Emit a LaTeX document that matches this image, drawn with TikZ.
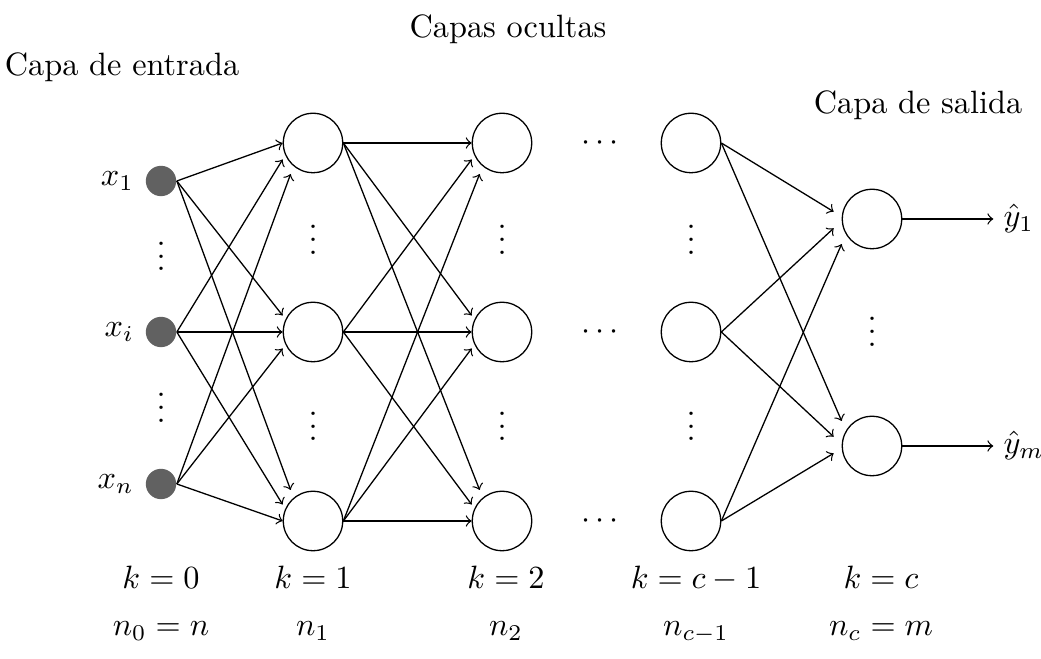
\documentclass[tikz,border=0pt]{standalone}
\usetikzlibrary{calc}
\begin{document}
\begin{tikzpicture}[x=0.3096pt,y=-0.3096pt,
  neuron/.style={circle,draw,line width=0.4pt,minimum size=18.4pt,inner sep=0pt},
  inneuron/.style={circle,fill=black!62,draw=none,minimum size=9.4pt,inner sep=0pt},
  conn/.style={->,line width=0.4pt},
  txt/.style={anchor=base,inner sep=0pt},
  outtxt/.style={anchor=base west,inner sep=0pt},
  vd/.style={anchor=base,inner sep=0pt}]
\useasboundingbox (0,0) rectangle (1041,659);

% titles
\node[txt] (tin)  at (122,76)  {Capa de entrada};
\node[txt] (thid) at (508,38)  {Capas ocultas};
\node[txt] (tout) at (918,114) {Capa de salida};

% input layer
\node[inneuron,label={left:$x_1$}] (i0) at (161,181) {};
\node[inneuron,label={left:$x_i$}] (i1) at (161,332) {};
\node[inneuron,label={left:$x_n$}] (i2) at (161,484) {};

% hidden layers
\foreach \j/\y in {0/143,1/332,2/521}{
  \node[neuron] (a\j) at (313,\y) {};
  \node[neuron] (b\j) at (502,\y) {};
  \node[neuron] (c\j) at (691,\y) {};
  \node[txt] (h\j) at (600,\y+8) {$\cdots$};
}

% output layer
\node[neuron] (o0) at (872,219) {};
\node[neuron] (o1) at (872,446) {};
\node[outtxt] (y0) at (1003,227) {$\hat{y}_1$};
\node[outtxt] (y1) at (1003,454) {$\hat{y}_m$};

% vertical dots
\node[vd] (v1) at (161,271) {$\vdots$};
\node[vd] (v2) at (161,422.5) {$\vdots$};
\foreach \x/\n in {313/a,502/b,691/c}{
  \node[vd] (\n u) at (\x,254.5) {$\vdots$};
  \node[vd] (\n d) at (\x,441) {$\vdots$};
}
\node[vd] (vo) at (872,346.5) {$\vdots$};

% connections input -> layer 1, layer 1 -> layer 2
\foreach \i in {0,1,2}{
  \foreach \j in {0,1,2}{
    \pgfmathsetmacro\d{\i-\j}
    \pgfmathsetmacro\dx{abs(\d)>1.5 ? 8 : 0}
    \pgfmathsetmacro\dy{abs(\d)>1.5 ? 15.5*\d : 16.5*\d}
    \draw[conn] (i\i.east) -- ([shift={(\dx,\dy)}]a\j.west);
    \draw[conn] (a\i.east) -- ([shift={(\dx,\dy)}]b\j.west);
  }
}

% layer c-1 -> output
\foreach \i/\dx/\dy in {0/-8/-7.3,1/-8/9.3,2/0/25}
  \draw[conn] (c\i.east) -- ([shift={(\dx,\dy)}]o0.west);
\foreach \i/\dx/\dy in {2/-8/7.3,1/-8/-9.3,0/0/-25}
  \draw[conn] (c\i.east) -- ([shift={(\dx,\dy)}]o1.west);

% outputs
\draw[conn,shorten >=3pt] (o0.east) -- (o0.east -| y0.west);
\draw[conn,shorten >=3pt] (o1.east) -- (o1.east -| y1.west);

% bottom labels
\node[txt] (k0) at (161,589) {$k=0$};
\node[txt] (k1) at (313,589) {$k=1$};
\node[txt] (k2) at (506,589) {$k=2$};
\node[txt] (k3) at (696,589) {$k=c-1$};
\node[txt] (k4) at (881,589) {$k=c$};
\node[txt] (n0) at (161,636) {$n_0=n$};
\node[txt] (n1) at (313,636) {$n_1$};
\node[txt] (n2) at (506,636) {$n_2$};
\node[txt] (n3) at (696,636) {$n_{c-1}$};
\node[txt] (n4) at (881,636) {$n_c=m$};
\end{tikzpicture}
\end{document}
